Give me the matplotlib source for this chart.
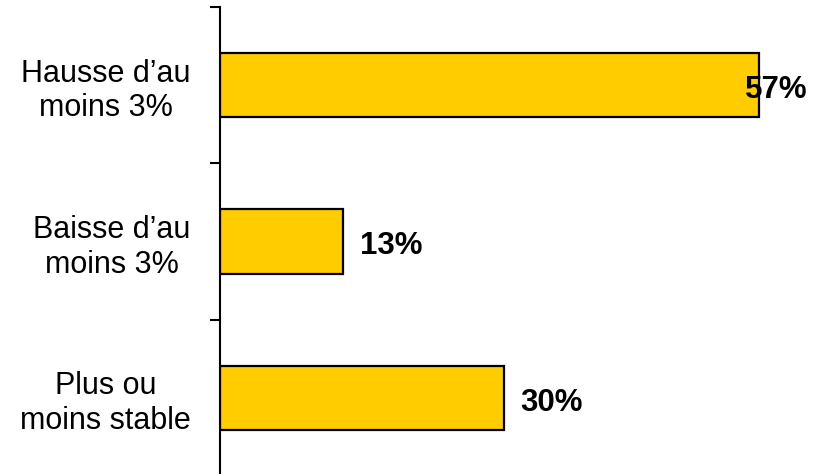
import matplotlib
matplotlib.use("Agg")
import matplotlib.pyplot as plt
import numpy as np

categories = ["Hausse d\u2019au\nmoins 3%", "Baisse d\u2019au\nmoins 3%", "Plus ou\nmoins stable"]
values = [57, 13, 30]
value_labels = ["57%", "13%", "30%"]

plt.rcParams["font.family"] = ["Liberation Sans", "DejaVu Sans"]

fig = plt.figure(figsize=(8.14, 4.74), dpi=100)
# axes: left spine at x=220px, spans top 7px to beyond bottom
ax = fig.add_axes([220 / 814, -2 / 474, 594 / 814, 469 / 474])

y = np.arange(len(categories))
ax.barh(y, values, height=0.41, color="#FFCC00", edgecolor="black", linewidth=1.6)

xmax = 594 / 9.45
ax.set_xlim(0, xmax)
ax.set_ylim(len(categories) - 0.5, -0.5)

for yi, v, lab in zip(y, values, value_labels):
    xpos = min(v + 1.8, 55.6)
    ax.text(xpos, yi + 0.03, lab, va="center", ha="left", fontsize=22.5, fontweight="bold")

# tick marks between categories, labels at category centers
ax.set_yticks(np.arange(-0.5, len(categories), 1.0))
ax.set_yticklabels([])
ax.tick_params(axis="y", which="major", length=7, width=1.5, direction="out")
ax.set_yticks(y, minor=True)
ax.set_yticklabels(categories, minor=True, fontsize=22, multialignment="center",
                   linespacing=1.2)
ax.tick_params(axis="y", which="minor", length=0, pad=21)

ax.set_xticks([])
for s in ["top", "right", "bottom"]:
    ax.spines[s].set_visible(False)
ax.spines["left"].set_linewidth(1.5)

plt.savefig("out.png", dpi=100)
